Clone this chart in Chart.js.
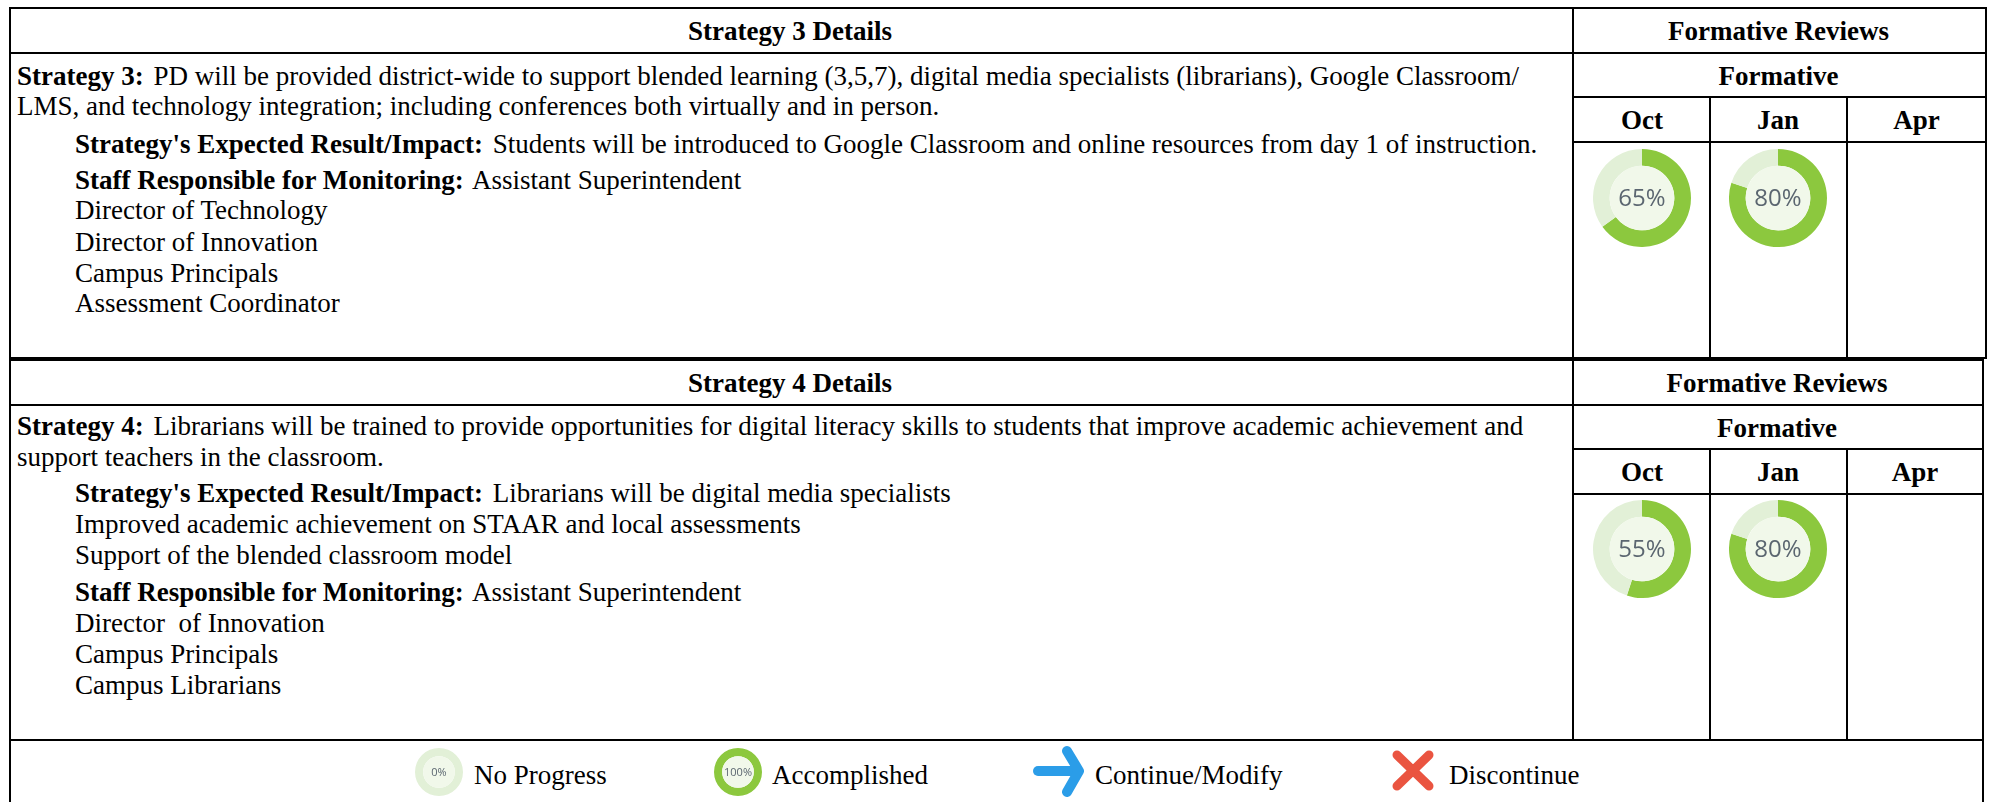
<!DOCTYPE html>
<html>
<head>
<meta charset="utf-8">
<script src="https://cdn.jsdelivr.net/npm/chart.js@4"></script>
<style>
  html, body { margin: 0; padding: 0; background: #fff; }
  #page { position: relative; width: 1995px; height: 802px; overflow: hidden; font-family: "Liberation Serif", serif; font-size: 27px; color: #000; }
  .t { position: absolute; white-space: pre; line-height: 30px; height: 30px; }
  .t b { margin-right: 3px; }
  .c { transform: translateX(-50%); font-weight: bold; }
  .r { position: absolute; background: #000; }
  canvas { position: absolute; }
  svg { position: absolute; }
</style>
</head>
<body>
<div id="page"></div>
<script>
const months = ["Oct", "Jan", "Apr"];
const strategy3Progress = [65, 80, null];
const strategy4Progress = [55, 80, null];
const legendProgress = [0, 100];
const legendLabels = ["No Progress", "Accomplished", "Continue/Modify", "Discontinue"];

const strategy3Lines = [
  [17, 85, "<b>Strategy 3:</b> PD will be provided district-wide to support blended learning (3,5,7), digital media specialists (librarians), Google Classroom/"],
  [17, 115, "LMS, and technology integration; including conferences both virtually and in person."],
  [75, 153, "<b>Strategy's Expected Result/Impact:</b> Students will be introduced to Google Classroom and online resources from day 1 of instruction."],
  [75, 189, "<b>Staff Responsible for Monitoring:</b> Assistant Superintendent"],
  [75, 219, "Director of Technology"],
  [75, 251, "Director of Innovation"],
  [75, 282, "Campus Principals"],
  [75, 312, "Assessment Coordinator"],
];
const strategy4Lines = [
  [17, 435, "<b>Strategy 4:</b> Librarians will be trained to provide opportunities for digital literacy skills to students that improve academic achievement and"],
  [17, 466, "support teachers in the classroom."],
  [75, 502, "<b>Strategy's Expected Result/Impact:</b> Librarians will be digital media specialists"],
  [75, 533, "Improved academic achievement on STAAR and local assessments"],
  [75, 564, "Support of the blended classroom model"],
  [75, 601, "<b>Staff Responsible for Monitoring:</b> Assistant Superintendent"],
  [75, 632, "Director  of Innovation"],
  [75, 663, "Campus Principals"],
  [75, 694, "Campus Librarians"],
];

const page = document.getElementById("page");

function rule(x, y, w, h) {
  const d = document.createElement("div");
  d.className = "r";
  d.style.cssText = `left:${x}px;top:${y}px;width:${w}px;height:${h}px`;
  page.appendChild(d);
}

function text(x, baseline, html, cls) {
  const d = document.createElement("div");
  d.className = "t" + (cls ? " " + cls : "");
  d.style.left = x + "px";
  d.style.top = (baseline - 24) + "px";
  d.innerHTML = html;
  page.appendChild(d);
}

// center fill and percent label for the progress rings
const ringCenter = {
  id: "ringCenter",
  afterDraw(chart, args, opts) {
    const arc = chart.getDatasetMeta(0).data[0];
    const ctx = chart.ctx;
    ctx.save();
    ctx.beginPath();
    ctx.arc(arc.x, arc.y, arc.innerRadius, 0, Math.PI * 2);
    ctx.fillStyle = "#f1f8ea";
    ctx.fill();
    ctx.fillStyle = "#5b6670";
    ctx.font = opts.font;
    ctx.textAlign = "center";
    ctx.textBaseline = "middle";
    ctx.fillText(chart.data.datasets[0].data[0] + "%", arc.x, arc.y + 1);
    ctx.restore();
  },
};

function ring(cx, cy, radius, value, font) {
  const c = document.createElement("canvas");
  const size = radius * 2;
  c.width = size;
  c.height = size;
  c.style.cssText = `left:${cx - radius}px;top:${cy - radius}px;width:${size}px;height:${size}px`;
  page.appendChild(c);
  new Chart(c, {
    type: "doughnut",
    data: {
      datasets: [{ data: [value, 100 - value], backgroundColor: ["#8cc83e", "#e2f0d7"], borderWidth: 0 }],
    },
    options: {
      responsive: false,
      animation: false,
      cutout: "66%",
      events: [],
      plugins: { legend: { display: false }, tooltip: { enabled: false }, ringCenter: { font } },
    },
    plugins: [ringCenter],
  });
}

function table(t, title, lines, progress) {
  // outer box and rows
  rule(t.left, t.top, t.right - t.left, 2);
  rule(t.left, t.bottom, t.right - t.left, 2);
  rule(t.left, t.top, 2, t.bottom - t.top);
  rule(t.right - 2, t.top, 2, t.bottom - t.top);
  rule(t.left, t.top + 45, t.right - t.left, 2);
  rule(1572, t.top, 2, t.bottom - t.top);
  rule(1572, t.top + 89, t.right - 1572, 2);
  rule(1572, t.top + 134, t.right - 1572, 2);
  rule(1709, t.top + 89, 2, t.bottom - t.top - 89);
  rule(1846, t.top + 89, 2, t.bottom - t.top - 89);

  const mid = (1572 + t.right) / 2 - 1;
  text(t.titleX, t.top + 33, title, "c");
  text(mid, t.top + 33, "Formative Reviews", "c");
  text(mid, t.top + 78, "Formative", "c");
  const centers = [1642, 1778, (1846 + t.right) / 2];
  months.forEach((m, i) => {
    text(centers[i], t.top + 122, m, "c");
    if (progress[i] !== null) ring(centers[i], t.top + t.ringY, 49, progress[i], "24px 'Open Sans'");
  });
  lines.forEach(l => text(l[0], l[1], l[2]));
}

table({ left: 9, right: 1987, top: 7, bottom: 357, titleX: 790, ringY: 191 }, "Strategy 3 Details", strategy3Lines, strategy3Progress);
table({ left: 9, right: 1984, top: 359, bottom: 739, titleX: 790, ringY: 190 }, "Strategy 4 Details", strategy4Lines, strategy4Progress);

// legend row
rule(9, 739, 2, 63);
rule(1982, 739, 2, 63);
ring(439, 772, 24, legendProgress[0], "11px 'Open Sans'");
ring(738, 772, 24, legendProgress[1], "11px 'Open Sans'");
text(474, 784, legendLabels[0]);
text(772, 784, legendLabels[1]);
text(1095, 784, legendLabels[2]);
text(1449, 784, legendLabels[3]);

page.insertAdjacentHTML("beforeend", `
  <svg style="left:1030px;top:744px" width="58" height="56" viewBox="1030 744 58 56" fill="none" stroke-linecap="round" stroke-linejoin="round">
    <path d="M1038 771H1078" stroke="#2b9de8" stroke-width="10"/>
    <path d="M1067 751L1079 771L1067 792" stroke="#2b9de8" stroke-width="10"/>
  </svg>
  <svg style="left:1388px;top:746px" width="50" height="50" viewBox="1388 746 50 50" fill="none" stroke-linecap="round">
    <path d="M1397 755L1429 786M1429 755L1397 786" stroke="#ea5440" stroke-width="9"/>
  </svg>`);
</script>
</body>
</html>
